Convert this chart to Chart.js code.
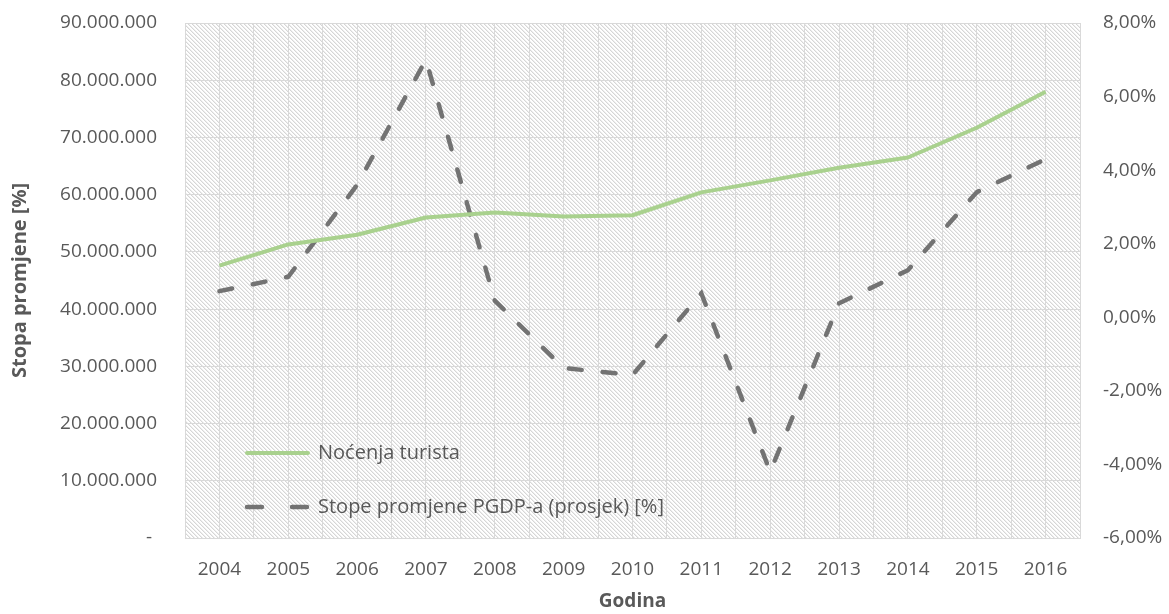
<!DOCTYPE html>
<html>
<head>
<meta charset="utf-8">
<script src="https://cdn.jsdelivr.net/npm/chart.js@4.4.1/dist/chart.umd.min.js"></script>
<style>
  html, body { margin: 0; padding: 0; background: #fff; }
  #okvir { width: 1169px; height: 614px; }
</style>
</head>
<body>
<div id="okvir"><canvas id="grafico"></canvas></div>
<script>
const godine = ['2004', '2005', '2006', '2007', '2008', '2009', '2010', '2011', '2012', '2013', '2014', '2015', '2016'];
const nocenjaTurista = [47600000, 51300000, 53000000, 56000000, 56900000, 56200000, 56400000, 60400000, 62500000, 64700000, 66500000, 71700000, 78000000];
const stopePGDP = [0.71, 1.1, 3.6, 7.0, 0.45, -1.38, -1.57, 0.65, -4.2, 0.38, 1.28, 3.4, 4.3];
const oznakeLijevo = [0, 10000000, 20000000, 30000000, 40000000, 50000000, 60000000, 70000000, 80000000, 90000000];
const oznakeDesno = [-6, -4, -2, 0, 2, 4, 6, 8];

const sivaTekst = '#595959';
const sivaMreza = '#d9d9d9';
const font = '"Open Sans", "DejaVu Sans", sans-serif';

// iscrtkana pozadina podrucja grafa (dijagonale "\")
function uzorakPozadine(ctx) {
  const c = document.createElement('canvas');
  c.width = 4; c.height = 4;
  const g = c.getContext('2d');
  g.fillStyle = '#ffffff';
  g.fillRect(0, 0, 4, 4);
  for (let i = 0; i < 4; i++) {
    g.fillStyle = '#d6d6d6';
    g.fillRect(i, i, 1, 1);
    g.fillStyle = '#eeeeee';
    g.fillRect((i + 1) % 4, i, 1, 1);
  }
  return ctx.createPattern(c, 'repeat');
}

const pozadina = {
  id: 'pozadina',
  beforeDraw(chart) {
    const { ctx, chartArea: a } = chart;
    ctx.save();
    ctx.fillStyle = uzorakPozadine(ctx);
    ctx.fillRect(a.left, a.top, a.right - a.left, a.bottom - a.top);
    ctx.restore();
  }
};

// legenda unutar podrucja grafa, dolje lijevo
const legendaUnutra = {
  id: 'legendaUnutra',
  afterDraw(chart) {
    const { ctx, chartArea: a } = chart;
    const x0 = a.left + 62, x1 = a.left + 123, tx = a.left + 133;
    const redovi = [a.bottom - 85, a.bottom - 31];
    ctx.save();
    chart.data.datasets.forEach((ds, i) => {
      const y = redovi[i];
      ctx.beginPath();
      ctx.strokeStyle = ds.borderColor;
      ctx.lineWidth = ds.borderWidth;
      ctx.lineCap = 'round';
      ctx.setLineDash(ds.borderDash ? [15, 30] : []);
      ctx.moveTo(x0, y);
      ctx.lineTo(x1, y);
      ctx.stroke();
      ctx.setLineDash([]);
      ctx.fillStyle = sivaTekst;
      ctx.font = '20px ' + font;
      ctx.textBaseline = 'middle';
      ctx.textAlign = 'left';
      ctx.fillText(ds.label, tx, y);
    });
    ctx.restore();
  }
};

function tockaZarez(v) {
  if (v === 0) return '- ';
  return v.toString().replace(/\B(?=(\d{3})+(?!\d))/g, '.');
}

// okomite osi ne smiju pomicati vrh podrucja grafa
function bezRuba(s, sirina) {
  s.width = sirina;
  s.paddingTop = 0;
  s.paddingBottom = 0;
}

const ctx = document.getElementById('grafico').getContext('2d');
new Chart(ctx, {
  type: 'line',
  data: {
    labels: godine,
    datasets: [
      {
        label: 'Noćenja turista',
        data: nocenjaTurista,
        yAxisID: 'y',
        borderColor: '#a9d18e',
        borderWidth: 4,
        pointRadius: 0,
        tension: 0,
        borderJoinStyle: 'round'
      },
      {
        label: 'Stope promjene PGDP-a (prosjek) [%]',
        data: stopePGDP,
        yAxisID: 'y1',
        borderColor: '#737373',
        borderWidth: 4.5,
        borderDash: [13, 21],
        borderCapStyle: 'round',
        pointRadius: 0,
        tension: 0
      }
    ]
  },
  options: {
    responsive: true,
    maintainAspectRatio: false,
    animation: false,
    layout: { padding: { top: 23, left: 0, right: 0, bottom: 0 } },
    plugins: {
      legend: { display: false },
      tooltip: { enabled: false }
    },
    scales: {
      x: {
        offset: true,
        grid: { offset: true, color: sivaMreza, drawTicks: false },
        border: { color: sivaMreza },
        ticks: { color: sivaTekst, font: { family: font, size: 19 }, padding: 20, maxRotation: 0 },
        title: { display: true, text: 'Godina', color: sivaTekst, font: { family: font, size: 19, weight: 'bold' }, padding: { top: 0, bottom: 1 } },
        afterFit(s) { s.height = 76; }
      },
      xSredina: {
        type: 'category',
        labels: godine,
        offset: true,
        position: 'bottom',
        display: true,
        grid: { offset: false, color: sivaMreza, drawTicks: false },
        border: { display: false },
        ticks: { display: false },
        afterFit(s) { s.height = 0; }
      },
      y: {
        position: 'left',
        min: oznakeLijevo[0],
        max: oznakeLijevo[oznakeLijevo.length - 1],
        afterBuildTicks(s) { s.ticks = oznakeLijevo.map(v => ({ value: v })); },
        grid: { color: sivaMreza, drawTicks: false },
        border: { color: sivaMreza },
        ticks: { color: sivaTekst, font: { family: font, size: 19 }, padding: 28, callback: v => tockaZarez(v) },
        title: { display: true, text: 'Stopa promjene [%]', color: sivaTekst, font: { family: font, size: 20, weight: 'bold' }, padding: { top: 8, bottom: 0 } },
        afterFit(s) { bezRuba(s, 185); }
      },
      y1: {
        position: 'right',
        min: oznakeDesno[0],
        max: oznakeDesno[oznakeDesno.length - 1],
        afterBuildTicks(s) { s.ticks = oznakeDesno.map(v => ({ value: v })); },
        grid: { display: false, drawTicks: false },
        border: { color: sivaMreza },
        ticks: { color: sivaTekst, font: { family: font, size: 19 }, padding: 23, callback: v => v.toFixed(2).replace('.', ',') + '%' },
        afterFit(s) { bezRuba(s, 89); }
      }
    }
  },
  plugins: [pozadina, legendaUnutra]
});
</script>
</body>
</html>
